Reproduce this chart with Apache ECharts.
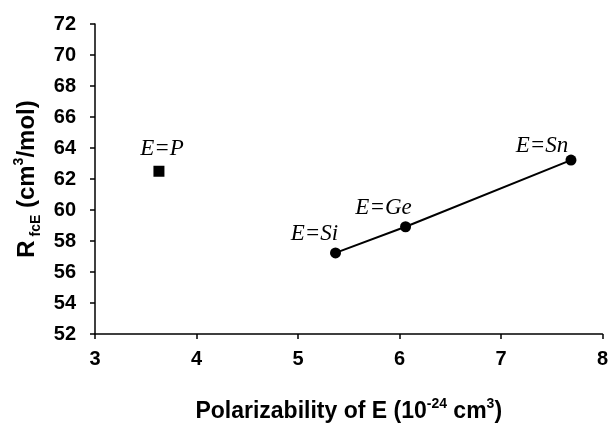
<!DOCTYPE html>
<html>
<head>
<meta charset="utf-8">
<script src="https://cdn.jsdelivr.net/npm/echarts@6/dist/echarts.min.js"></script>
<style>html,body{margin:0;padding:0;background:#fff}#c{width:611px;height:428px}</style>
</head>
<body>
<div id="c"></div>
<script>
const xTicks = [3, 4, 5, 6, 7, 8];
const yTicks = [52, 54, 56, 58, 60, 62, 64, 66, 68, 70, 72];
const pNames = ['E=P'];
const pX = [3.63];
const pY = [62.5];
const lineNames = ['E=Si', 'E=Ge', 'E=Sn'];
const lineX = [5.37, 6.06, 7.69];
const lineY = [57.23, 58.92, 63.22];

const labelOffsets = { 'E=P': [3, -22], 'E=Si': [-21, -19], 'E=Ge': [-22, -19], 'E=Sn': [-29, -14] };
const lblStyle = { fontFamily: 'Liberation Serif', fontStyle: 'italic', fontSize: 23, color: '#000' };

function mk(names, xs, ys) {
  return names.map((n, i) => ({
    value: [xs[i], ys[i]], name: n,
    label: Object.assign({ show: true, position: 'inside', formatter: n, offset: labelOffsets[n] }, lblStyle)
  }));
}

const chart = echarts.init(document.getElementById('c'), null, { renderer: 'canvas' });
const axisFont = { fontFamily: 'Liberation Sans', fontWeight: 'bold', fontSize: 20, color: '#000' };
chart.setOption({
  animation: false,
  grid: { left: 95, right: 8, top: 24, bottom: 89, containLabel: false },
  xAxis: {
    type: 'value', min: xTicks[0], max: xTicks[xTicks.length - 1], interval: 1,
    splitLine: { show: false },
    axisLine: { lineStyle: { color: '#000', width: 1.5 } },
    axisTick: { show: true, length: 5, lineStyle: { color: '#000', width: 1.5 } },
    axisLabel: Object.assign({ margin: 15 }, axisFont),
    name: '{t|Polarizability of E (10}{sup|-24}{t| cm}{sup|3}{t|)}',
    nameLocation: 'middle', nameGap: 63,
    nameTextStyle: {
      rich: {
        t: Object.assign({}, axisFont, { fontSize: 23 }),
        sup: Object.assign({}, axisFont, { fontSize: 14, verticalAlign: 'top', lineHeight: 29 })
      }
    }
  },
  yAxis: {
    type: 'value', min: yTicks[0], max: yTicks[yTicks.length - 1], interval: 2,
    splitLine: { show: false },
    axisLine: { show: true, lineStyle: { color: '#000', width: 1.5 } },
    axisTick: { show: true, length: 5, lineStyle: { color: '#000', width: 1.5 } },
    axisLabel: Object.assign({ margin: 19 }, axisFont),
    name: '{t|R}{sub| fcE}{t| (cm}{sup|3}{t|/mol)}',
    nameLocation: 'middle', nameGap: 46, nameRotate: 90,
    nameTextStyle: {
      rich: {
        t: Object.assign({}, axisFont, { fontSize: 24 }),
        sub: Object.assign({}, axisFont, { fontSize: 14, verticalAlign: 'bottom', lineHeight: 25 }),
        sup: Object.assign({}, axisFont, { fontSize: 14, verticalAlign: 'top', lineHeight: 31 })
      }
    }
  },
  series: [
    {
      type: 'scatter', symbol: 'rect', symbolSize: 11,
      itemStyle: { color: '#000', opacity: 1 },
      data: mk(pNames, pX, pY)
    },
    {
      type: 'line', symbol: 'circle', symbolSize: 11, showSymbol: true,
      lineStyle: { color: '#000', width: 2 },
      itemStyle: { color: '#000', opacity: 1 },
      data: mk(lineNames, lineX, lineY)
    }
  ]
});
</script>
</body>
</html>
